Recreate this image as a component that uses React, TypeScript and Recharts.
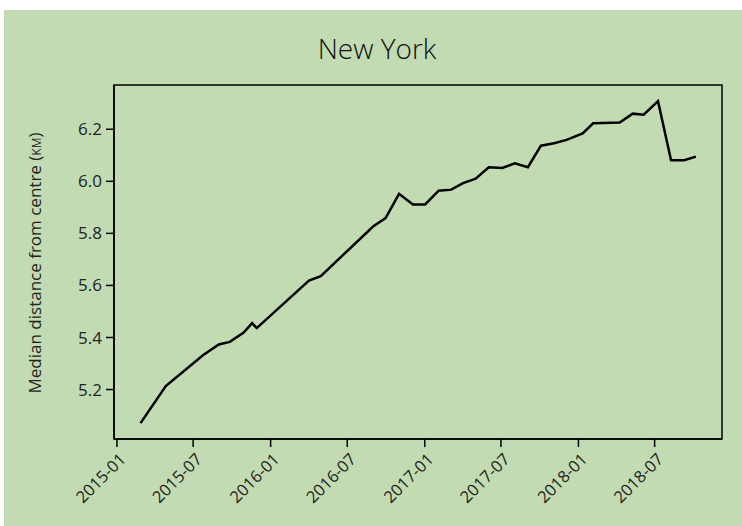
import React from "react";
import { LineChart, Line, XAxis, YAxis, ReferenceArea } from "recharts";

const dates = [
  "2015-02-26", "2015-04-27", "2015-07-25", "2015-08-31", "2015-09-26", "2015-10-29",
  "2015-11-18", "2015-11-29", "2016-04-01", "2016-04-29", "2016-09-01", "2016-09-30",
  "2016-11-01", "2016-12-04", "2017-01-02", "2017-02-03", "2017-03-05", "2017-04-02",
  "2017-05-02", "2017-06-02", "2017-07-04", "2017-08-03", "2017-09-03", "2017-10-04",
  "2017-11-04", "2017-12-04", "2018-01-11", "2018-02-05", "2018-04-09", "2018-05-10",
  "2018-06-05", "2018-07-09", "2018-08-09", "2018-09-09", "2018-10-07",
];

const medianKm = [
  5.071, 5.213, 5.333, 5.373, 5.383, 5.419,
  5.455, 5.436, 5.619, 5.636, 5.827, 5.859,
  5.952, 5.911, 5.911, 5.964, 5.968, 5.993,
  6.01, 6.054, 6.051, 6.069, 6.054, 6.137,
  6.146, 6.159, 6.184, 6.223, 6.226, 6.26,
  6.256, 6.308, 6.081, 6.081, 6.095,
];

const xTickLabels = ["2015-01", "2015-07", "2016-01", "2016-07", "2017-01", "2017-07", "2018-01", "2018-07"];
const yTicks = [5.2, 5.4, 5.6, 5.8, 6.0, 6.2];

const ts = (d: string) => Date.parse(d + "T00:00:00Z");
const data = dates.map((d, i) => ({ t: ts(d), v: medianKm[i] }));
const xTicks = xTickLabels.map((m) => ts(m + "-01"));
const xDomain: [number, number] = [ts("2014-12-25"), ts("2018-12-08")];
const yDomain: [number, number] = [5.01, 6.37];

const BG = "#c3dbb2";
const FONT = "'Open Sans', sans-serif";

const fmt = (t: number) => {
  const d = new Date(t);
  return `${d.getUTCFullYear()}-${String(d.getUTCMonth() + 1).padStart(2, "0")}`;
};

function XTick(props: any) {
  const { x, y, payload } = props;
  return (
    <text
      x={x}
      y={y}
      transform={`rotate(-45, ${x}, ${y})`}
      textAnchor="end"
      dx={-1}
      dy={15}
      fontSize={16.5}
      fontFamily={FONT}
      fill="#222"
    >
      {fmt(payload.value)}
    </text>
  );
}

export default function App() {
  return (
    <div
      style={{
        position: "absolute",
        left: 4,
        top: 10,
        width: 738,
        height: 516,
        background: BG,
        fontFamily: FONT,
      }}
    >
      <div
        style={{
          position: "absolute",
          left: 0,
          width: 746,
          top: 19,
          textAlign: "center",
          fontSize: 28,
          fontWeight: 300,
          color: "#111",
        }}
      >
        New York
      </div>
      <div
        style={{
          position: "absolute",
          left: 30,
          top: 253,
          transform: "translate(-50%, -50%) rotate(-90deg)",
          whiteSpace: "nowrap",
          fontSize: 17,
          color: "#222",
        }}
      >
        Median distance from centre (<span style={{ fontVariant: "small-caps" }}>km</span>)
      </div>
      <LineChart
        width={738}
        height={516}
        data={data}
        margin={{ top: 75, right: 20, bottom: 17, left: 50 }}
        style={{ position: "absolute", left: 0, top: 0 }}
      >
        <XAxis
          dataKey="t"
          type="number"
          scale="linear"
          domain={xDomain}
          ticks={xTicks}
          tick={<XTick />}
          tickSize={8}
          height={70}
          interval={0}
          axisLine={{ stroke: "#000", strokeWidth: 1.5 }}
          tickLine={{ stroke: "#000", strokeWidth: 1.5 }}
          allowDataOverflow
        />
        <YAxis
          type="number"
          domain={yDomain}
          ticks={yTicks}
          tickFormatter={(v: number) => v.toFixed(1)}
          tick={{ fontSize: 17, fontFamily: FONT, fill: "#222", dx: -2 }}
          tickSize={8}
          width={60}
          interval={0}
          axisLine={{ stroke: "#000", strokeWidth: 1.5 }}
          tickLine={{ stroke: "#000", strokeWidth: 1.5 }}
          allowDataOverflow
        />
        <ReferenceArea
          x1={xDomain[0]}
          x2={xDomain[1]}
          y1={yDomain[0]}
          y2={yDomain[1]}
          fill="none"
          stroke="#000"
          strokeWidth={1.5}
        />
        <Line
          type="linear"
          dataKey="v"
          stroke="#000"
          strokeWidth={2.5}
          dot={false}
          isAnimationActive={false}
        />
      </LineChart>
    </div>
  );
}
